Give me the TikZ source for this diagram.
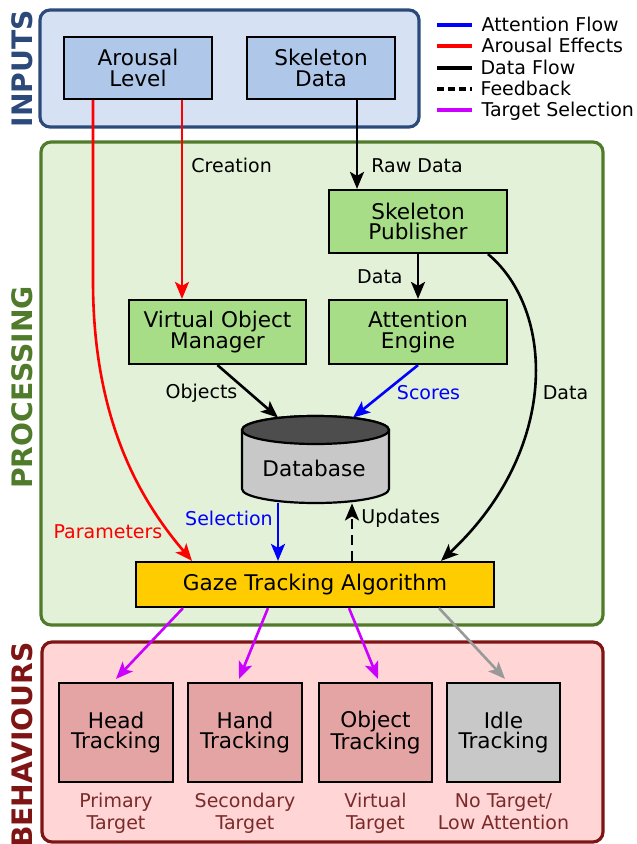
\documentclass[tikz,border=0pt]{standalone}
\usepackage{fontspec}
\setmainfont{DejaVu Sans}
\usetikzlibrary{arrows.meta,positioning}
\definecolor{inblue}{HTML}{2B4A7A}
\definecolor{inbg}{HTML}{D6E2F3}
\definecolor{inbox}{HTML}{AFC7E8}
\definecolor{progreen}{HTML}{4F7B2B}
\definecolor{probg}{HTML}{E2F1D8}
\definecolor{probox}{HTML}{A8DD88}
\definecolor{behred}{HTML}{7F1414}
\definecolor{behbg}{HTML}{FFD5D5}
\definecolor{behbox}{HTML}{E4A4A4}
\definecolor{capred}{HTML}{7A2A2A}
\definecolor{gazeyellow}{HTML}{FFCC00}
\definecolor{dbbody}{HTML}{C8C8C8}
\definecolor{dbtop}{HTML}{4D4D4D}
\definecolor{attblue}{HTML}{0000FF}
\definecolor{arored}{HTML}{FF0000}
\definecolor{selpurple}{HTML}{CC00FF}
\definecolor{idlegray}{HTML}{999999}
\tikzset{
  frame/.style={rounded corners=5pt, line width=1.6pt},
  sectitle/.style={rotate=90, inner sep=0pt, font=\bfseries\fontsize{14.1}{14}\selectfont},
  box/.style={draw=black, line width=1.1pt, align=center, inner sep=0pt, font=\fontsize{10.8}{10.3}\selectfont},
  lbl/.style={inner sep=0pt, font=\fontsize{9.5}{11}\selectfont, text height=6.9pt, text depth=0pt},
  caption/.style={inner sep=0pt, align=center, text=capred, font=\fontsize{9.5}{11}\selectfont},
  flow/.style={line width=1.3pt},
  leg/.style={line width=1.6pt}
}
\begin{document}
\begin{tikzpicture}[x=0.5pt, y=-0.5pt, >={Stealth[length=8.5pt, width=7pt, inset=2pt]}]
\useasboundingbox (0,0) rectangle (636,844);
% frames
\draw [frame, draw=inblue, fill=inbg] (40,10) rectangle (419,127);
\draw [frame, draw=progreen, fill=probg] (41,142) rectangle (603,625);
\draw [frame, draw=behred, fill=behbg] (42,642) rectangle (603,842);
\node[sectitle, text=inblue] (tin) at (22,68.5) {INPUTS};
\node[sectitle, text=progreen] (tpro) at (22,387.5) {PROCESSING};
\node[sectitle, text=behred] (tbeh) at (22,745) {BEHAVIOURS};
% legend
\draw [leg, draw=attblue] (437,25)--(472,25) node[lbl, right=4pt] (lgatt) {Attention Flow};
\draw [leg, draw=arored] (437,46)--(472,46) node[lbl, right=4pt] (lgaro) {Arousal Effects};
\draw [leg, draw=black] (437,68)--(472,68) node[lbl, right=3.5pt] (lgdata) {Data Flow};
\draw [leg, draw=black, dash pattern=on 3.5pt off 2pt] (437,89)--(472,89) node[lbl, right=3.5pt] (lgfb) {Feedback};
\draw [leg, draw=selpurple] (437,110)--(472,110) node[lbl, right=4pt] (lgsel) {Target Selection};
% inputs
\draw (138,68) node[box, fill=inbox, minimum width=74pt, minimum height=31pt](AL){Arousal\\Level}
(321,68) node[box, fill=inbox, minimum width=74pt, minimum height=31pt](SD){Skeleton\\Data};
% processing
\draw (418,221.5) node[box, fill=probox, minimum width=89pt, minimum height=31.5pt](SP){Skeleton\\Publisher}
(217.5,332) node[box, fill=probox, minimum width=88.5pt, minimum height=32pt](VOM){Virtual Object\\Manager}
(418,332) node[box, fill=probox, minimum width=89pt, minimum height=32pt](AE){Attention\\Engine}
(315,584.5) node[box, fill=gazeyellow, minimum width=179pt, minimum height=22.5pt](GTA){Gaze Tracking Algorithm};
% database
\node[minimum width=73.5pt, minimum height=43.5pt, inner sep=0pt] (DB) at (315.5,459.5) {};
\draw [line width=1.1pt, fill=dbbody] (242,430)--(242,489) arc[start angle=180, end angle=360, x radius=36.75pt, y radius=7pt]
--(389,430) arc[start angle=0, end angle=180, x radius=36.75pt, y radius=7pt]--cycle;
\draw [line width=1.1pt, fill=dbtop] (315.5,430) ellipse[x radius=36.75pt, y radius=7pt];
\node[lbl, font=\fontsize{10.8}{10.3}\selectfont, text height=7.9pt] (DBT) at (314,469) {Database};
% behaviours
\draw (116,732.5) node[box, fill=behbox, minimum width=57pt, minimum height=49.5pt](HT){Head\\Tracking}
(245,732.5) node[box, fill=behbox, minimum width=57pt, minimum height=49.5pt](HD){Hand\\Tracking}
(375.5,732.5) node[box, fill=behbox, minimum width=56.5pt, minimum height=49.5pt](OT){Object\\Tracking}
(503.5,732.5) node[box, fill=dbbody, minimum width=56.5pt, minimum height=49.5pt](IT){Idle\\Tracking};
\node[caption, below=5pt of HT] (HTC) {Primary\\Target};
\node[caption, below=5pt of HD] (HDC) {Secondary\\Target};
\node[caption, below=5pt of OT] (OTC) {Virtual\\Target};
\node[caption, below=5pt of IT] (ITC) {No Target/\\Low Attention};
% connectors
\draw [draw=arored, flow] [->] ([xshift=-22.5pt]AL.south)--++(0,181) .. controls (93,420) and (140,500) .. ([xshift=-61.5pt]GTA.north);
\draw [draw=arored, flow] [->] ([xshift=22pt]AL.south)--([xshift=-17.75pt]VOM.north);
\draw [draw=black, flow] [->] ([xshift=18pt]SD.south)--([xshift=-30.5pt]SP.north);
\draw [draw=black, flow] [->] (SP)--(AE);
\draw [draw=black, flow] [->] ([xshift=35pt]SP.south) .. controls (555,310) and (560,450) .. ([xshift=63pt]GTA.north);
\draw [draw=black, flow] [->] (VOM.south)--([xshift=-18.75pt, yshift=-1pt]DB.north);
\draw [draw=attblue, flow] [->] (AE.south)--([xshift=18.75pt, yshift=-1pt]DB.north);
\draw [draw=attblue, flow] [->] ([xshift=-18.75pt]DB.south)--([xshift=-18.5pt]GTA.north);
\draw [draw=black, flow, dash pattern=on 5pt off 3pt] [->] ([xshift=18.5pt]GTA.north)--([xshift=18.25pt]DB.south);
\draw [draw=selpurple, flow] [->] ([xshift=-66pt]GTA.south)--([yshift=1.5pt]HT.north);
\draw [draw=selpurple, flow] [->] ([xshift=-23.5pt]GTA.south)--([xshift=-3pt, yshift=1.5pt]HD.north);
\draw [draw=selpurple, flow] [->] ([xshift=17pt]GTA.south)--([xshift=1.25pt, yshift=1.5pt]OT.north);
\draw [draw=idlegray, flow] [->] ([xshift=62pt]GTA.south)--([xshift=0.75pt, yshift=1.5pt]IT.north);
% labels
\node[lbl, anchor=west] (LCR) at (191,166) {Creation};
\node[lbl, anchor=west] (LRAW) at (371,166) {Raw Data};
\node[lbl, anchor=east] (LD1) at (403,277) {Data};
\node[lbl] (LOBJ) at (201.5,392) {Objects};
\node[lbl, text=attblue] (LSC) at (428.5,393) {Scores};
\node[lbl] (LD2) at (565.5,393) {Data};
\node[lbl, text=attblue] (LSEL) at (229,519) {Selection};
\node[lbl, anchor=west] (LUPD) at (361,517) {Updates};
\node[lbl, text=arored] (LPAR) at (108,532) {Parameters};
\end{tikzpicture}
\end{document}
